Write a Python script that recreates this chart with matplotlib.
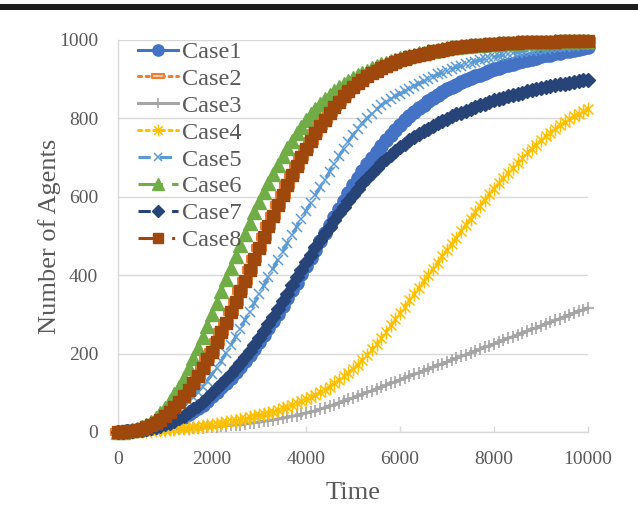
import matplotlib
matplotlib.use('Agg')
import matplotlib.pyplot as plt
from matplotlib.path import Path
from matplotlib.patches import Rectangle

plt.rcParams['font.family'] = ['Liberation Serif', 'DejaVu Serif']

# ---------------- data ----------------
time = list(range(0, 10001, 100))

case1 = [0, 1, 2, 3, 4, 5, 7, 9, 12, 15,
         18, 22, 27, 32, 38, 45, 53, 61, 70, 80,
         91, 102, 114, 126, 139, 153, 167, 182, 197, 213,
         230, 247, 265, 283, 302, 321, 341, 361, 381, 402,
         423, 444, 465, 486, 507, 528, 549, 570, 590, 610,
         629, 648, 666, 683, 699, 715, 730, 744, 758, 771,
         783, 795, 806, 816, 826, 835, 844, 852, 860, 867,
         874, 880, 886, 892, 897, 902, 907, 911, 915, 920,
         925, 929, 933, 937, 940, 943, 946, 949, 952, 955,
         958, 961, 963, 966, 968, 971, 973, 975, 977, 979,
         981]

case8 = [0, 1, 2, 3, 5, 8, 12, 17, 23, 31,
         40, 51, 63, 76, 91, 107, 125, 144, 164, 186,
         205, 229, 254, 279, 305, 332, 359, 386, 414, 442,
         470, 498, 525, 552, 579, 605, 630, 655, 678, 701,
         722, 743, 762, 780, 797, 813, 828, 842, 856, 869,
         880, 890, 899, 907, 915, 922, 928, 934, 939, 944,
         948, 952, 956, 959, 962, 965, 968, 971, 973, 975,
         977, 979, 981, 982, 984, 985, 986, 987, 988, 989,
         990, 991, 992, 992, 993, 993, 994, 994, 995, 995,
         995, 996, 996, 996, 997, 997, 997, 997, 998, 998,
         998]

case2 = list(case8)

case3 = [0, 0, 1, 1, 2, 2, 3, 3, 4, 4,
         5, 5, 6, 7, 7, 8, 9, 10, 11, 12,
         13, 14, 15, 16, 17, 18, 19, 21, 22, 24,
         25, 27, 29, 31, 33, 35, 37, 40, 42, 45,
         48, 51, 54, 58, 62, 66, 70, 74, 78, 83,
         87, 92, 96, 101, 105, 110, 115, 119, 124, 128,
         133, 138, 142, 147, 151, 156, 161, 165, 170, 174,
         179, 184, 188, 193, 197, 202, 207, 211, 216, 220,
         225, 230, 234, 239, 243, 248, 253, 257, 262, 266,
         271, 276, 280, 285, 289, 294, 299, 303, 308, 312,
         317]

case4 = [0, 0, 1, 1, 2, 2, 3, 3, 4, 5,
         6, 7, 8, 9, 10, 11, 12, 14, 15, 17,
         19, 21, 23, 25, 27, 29, 32, 34, 37, 40,
         43, 46, 49, 52, 56, 60, 64, 68, 73, 78,
         83, 89, 95, 101, 108, 116, 124, 133, 142, 151,
         161, 172, 184, 197, 211, 225, 240, 256, 272, 288,
         304, 320, 336, 352, 368, 384, 400, 416, 432, 448,
         464, 480, 496, 512, 528, 544, 560, 576, 591, 606,
         620, 634, 648, 661, 674, 687, 699, 711, 722, 733,
         744, 754, 764, 773, 782, 790, 798, 805, 812, 818,
         824]

case5 = [0, 1, 2, 3, 5, 7, 10, 14, 19, 25,
         32, 39, 47, 56, 66, 77, 89, 102, 116, 131,
         147, 164, 182, 201, 221, 242, 263, 285, 307, 329,
         351, 373, 395, 417, 439, 460, 481, 502, 523, 543,
         564, 584, 604, 624, 644, 664, 684, 703, 722, 740,
         758, 773, 787, 800, 812, 823, 833, 842, 849, 856,
         863, 869, 876, 883, 889, 895, 901, 906, 912, 917,
         922, 926, 930, 934, 938, 942, 945, 948, 951, 954,
         957, 959, 961, 964, 966, 968, 970, 972, 973, 975,
         977, 978, 979, 981, 982, 983, 984, 985, 986, 987,
         988]

case6 = [0, 1, 2, 4, 7, 12, 18, 26, 36, 48,
         62, 78, 96, 116, 138, 162, 188, 214, 242, 270,
         300, 330, 360, 390, 419, 448, 477, 505, 533, 560,
         586, 611, 636, 659, 682, 703, 724, 743, 762, 779,
         796, 811, 825, 838, 850, 860, 870, 879, 888, 896,
         903, 910, 916, 922, 928, 933, 938, 942, 946, 950,
         953, 957, 960, 963, 966, 968, 971, 973, 975, 977,
         979, 981, 982, 984, 985, 986, 987, 988, 989, 990,
         991, 992, 992, 993, 993, 994, 994, 995, 995, 995,
         996, 996, 996, 997, 997, 997, 997, 998, 998, 998,
         998]

case7 = [0, 1, 2, 3, 4, 6, 8, 10, 13, 16,
         20, 24, 29, 35, 42, 50, 58, 67, 77, 88,
         99, 111, 123, 136, 149, 163, 177, 192, 207, 223,
         240, 257, 275, 294, 313, 333, 353, 374, 395, 414,
         433, 452, 471, 489, 507, 524, 541, 558, 574, 590,
         605, 620, 634, 648, 661, 673, 685, 696, 707, 717,
         726, 735, 744, 752, 760, 767, 774, 781, 787, 793,
         799, 805, 810, 815, 820, 825, 830, 834, 838, 842,
         846, 850, 853, 857, 860, 863, 866, 869, 872, 875,
         877, 880, 882, 885, 887, 889, 891, 893, 895, 897,
         899]

series_names = ['Case1', 'Case2', 'Case3', 'Case4', 'Case5', 'Case6', 'Case7', 'Case8']
series_values = [case1, case2, case3, case4, case5, case6, case7, case8]

x_ticks = [0, 2000, 4000, 6000, 8000, 10000]
y_ticks = [0, 200, 400, 600, 800, 1000]

# ---------------- styles ----------------
rect_marker = Path([(-1, -0.4), (1, -0.4), (1, 0.4), (-1, 0.4), (-1, -0.4)],
                   [Path.MOVETO, Path.LINETO, Path.LINETO, Path.LINETO, Path.CLOSEPOLY])
star_marker = Path([(0, -1), (0, 1), (-0.72, -0.72), (0.72, 0.72), (-0.72, 0.72), (0.72, -0.72)],
                   [Path.MOVETO, Path.LINETO, Path.MOVETO, Path.LINETO, Path.MOVETO, Path.LINETO])

DOT = (0, (1, 1.5))
styles = [
    dict(color='#4472C4', ls='-', marker='o', ms=9.5, mfc='#4472C4', mew=1),
    dict(color='#ED7D31', ls=DOT, marker=rect_marker, ms=10, mfc='#F8CBAD', mew=1.5),
    dict(color='#A5A5A5', ls='-', marker='+', ms=9, mfc='#A5A5A5', mew=1.2),
    dict(color='#FFC000', ls=DOT, marker=star_marker, ms=10, mfc='none', mew=1.1),
    dict(color='#5B9BD5', ls=(0, (4, 3)), marker='x', ms=7.5, mfc='#5B9BD5', mew=1.1),
    dict(color='#70AD47', ls=(0, (8, 3)), marker='^', ms=9.5, mfc='#70AD47', mew=1),
    dict(color='#264478', ls=(0, (4, 3, 1, 3)), marker='D', ms=7.5, mfc='#264478', mew=1),
    dict(color='#9E480E', ls=(0, (8, 3, 1, 3)), marker='s', ms=8.5, mfc='#9E480E', mew=1),
]

W, H = 638, 519
fig = plt.figure(figsize=(W / 100, H / 100), dpi=100)
ax = fig.add_axes([118 / W, 1 - 432 / H, 470 / W, 392 / H])

for name, vals, st in zip(series_names, series_values, styles):
    ax.plot(time, vals, color=st['color'], ls=st['ls'], lw=2.2,
            marker=st['marker'], ms=st['ms'], mfc=st['mfc'], mec=st['color'],
            mew=st['mew'], label=name, clip_on=False, zorder=3,
            dash_capstyle='round' if st['ls'] == DOT else 'butt')

ax.set_xlim(0, 10000)
ax.set_ylim(0, 1000)
ax.set_xticks(x_ticks)
ax.set_yticks(y_ticks)
ax.grid(axis='y', color='#D9D9D9', lw=1)
ax.grid(axis='x', visible=False)
ax.set_axisbelow(True)
for s in ['top', 'right']:
    ax.spines[s].set_visible(False)
for s in ['left', 'bottom']:
    ax.spines[s].set_color('#D9D9D9')
    ax.spines[s].set_linewidth(1)
ax.tick_params(axis='x', direction='in', length=4.5, color='#D9D9D9', width=1,
               pad=14, labelsize=14, labelcolor='#595959')
ax.tick_params(axis='y', length=0, pad=14.4, labelsize=14, labelcolor='#595959')

fig.text(353 / W, 1 - 493 / H, 'Time', ha='center', va='center', fontsize=19, color='#595959')
fig.text(50 / W, 1 - 236 / H, 'Number of Agents', ha='center', va='center', rotation=90,
         fontsize=19, color='#595959')

handles, labels = ax.get_legend_handles_labels()
leg = fig.legend(handles, labels, loc='upper left', bbox_to_anchor=(138 / W, 1 - 41 / H),
                 frameon=False, fontsize=17.5, numpoints=1, handlelength=1.65,
                 handletextpad=0.15, labelspacing=0.2, borderpad=0, borderaxespad=0,
                 markerscale=0.85)
for t in leg.get_texts():
    t.set_color('#595959')

# black rule at the top of the image
fig.add_artist(Rectangle((0, 1 - 9.5 / H), 1, 5.5 / H, transform=fig.transFigure,
                         facecolor='#1c1c1c', edgecolor='none'))

fig.savefig('out.png', dpi=100)
